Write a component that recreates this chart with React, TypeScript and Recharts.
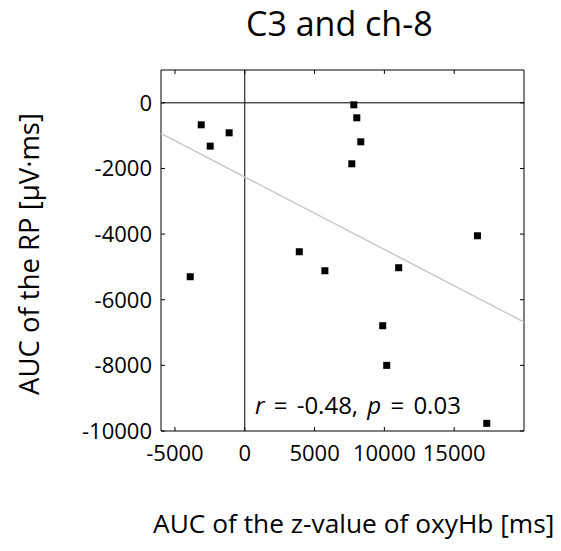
import {
  ScatterChart,
  Scatter,
  XAxis,
  YAxis,
  ReferenceLine,
} from "recharts";

// values (oxyHb AUC vs RP AUC)
const oxyHb = [-3119, -2476, -1119, -3905, 7810, 8024, 8310, 7667, 3905, 5738, 11024, 16667, 9881, 10167, 17333];
const rpAuc = [-670, -1320, -914, -5299, -61, -457, -1188, -1858, -4538, -5117, -5025, -4051, -6792, -8000, -9766];

const xTicks = [-5000, 0, 5000, 10000, 15000];
const yTicks = [0, -2000, -4000, -6000, -8000, -10000];

// regression fit end points
const fitX = [-6000, 20000];
const fitY = [-933, -6679];

const points = oxyHb.map((x, i) => ({ x, y: rpAuc[i] }));
const fitLine = fitX.map((x, i) => ({ x, y: fitY[i] }));

const font = "'Open Sans', 'Noto Sans', sans-serif";
const tickStyle = { fill: "#000", fontSize: 22, fontFamily: font };
const blank = () => "";

const Square = (props: any) => {
  const { cx, cy } = props;
  return <rect x={cx - 3.5} y={cy - 3.5} width={7} height={7} fill="#000" />;
};

export default function App() {
  return (
    <div style={{ position: "absolute", left: 0, top: 0, width: 561, height: 551, background: "#fff", fontFamily: font }}>
      <div style={{ position: "absolute", left: 246, top: 0, whiteSpace: "nowrap", fontSize: 34 }}>
        C3 and ch-8
      </div>
      <ScatterChart
        width={561}
        height={551}
        margin={{ top: 60, right: 27, bottom: 90, left: 101 }}
      >
        <XAxis
          type="number"
          dataKey="x"
          xAxisId="b"
          domain={[-6000, 20000]}
          ticks={xTicks}
          height={30}
          tick={tickStyle}
          tickSize={-4}
          tickMargin={18}
          stroke="#000"
          allowDataOverflow
        />
        <XAxis
          type="number"
          dataKey="x"
          xAxisId="t"
          orientation="top"
          domain={[-6000, 20000]}
          ticks={xTicks}
          height={10}
          tickFormatter={blank}
          tickSize={-4}
          stroke="#000"
          allowDataOverflow
        />
        <YAxis
          type="number"
          dataKey="y"
          yAxisId="l"
          domain={[-10000, 1000]}
          ticks={yTicks}
          width={60}
          tick={tickStyle}
          tickSize={-4}
          tickMargin={13}
          stroke="#000"
          allowDataOverflow
        />
        <YAxis
          type="number"
          dataKey="y"
          yAxisId="r"
          orientation="right"
          domain={[-10000, 1000]}
          ticks={yTicks}
          width={10}
          tickFormatter={blank}
          tickSize={-4}
          stroke="#000"
          allowDataOverflow
        />
        <ReferenceLine xAxisId="b" yAxisId="l" x={0} stroke="#000" strokeWidth={1} />
        <ReferenceLine xAxisId="b" yAxisId="l" y={0} stroke="#000" strokeWidth={1} />
        {/* hidden series so the top/right frame axes get drawn */}
        <Scatter
          xAxisId="t"
          yAxisId="r"
          data={points}
          shape={() => null}
          isAnimationActive={false}
        />
        <Scatter
          xAxisId="b"
          yAxisId="l"
          data={fitLine}
          line={{ stroke: "#c8c8c8", strokeWidth: 1.5 }}
          shape={() => null}
          isAnimationActive={false}
        />
        <Scatter
          xAxisId="b"
          yAxisId="l"
          data={points}
          shape={Square}
          isAnimationActive={false}
        />
      </ScatterChart>
      <div
        style={{
          position: "absolute",
          left: 28,
          top: 254,
          transform: "translate(-50%, -50%) rotate(-90deg)",
          whiteSpace: "nowrap",
          fontSize: 27.5,
        }}
      >
        AUC of the RP [μV·ms]
      </div>
      <div style={{ position: "absolute", left: 153, top: 505, whiteSpace: "nowrap", fontSize: 26.3 }}>
        AUC of the z-value of oxyHb [ms]
      </div>
      <div style={{ position: "absolute", left: 255, top: 388, whiteSpace: "nowrap", fontSize: 24, wordSpacing: 3 }}>
        <i>r</i> = -0.48, <i>p</i> = 0.03
      </div>
    </div>
  );
}
